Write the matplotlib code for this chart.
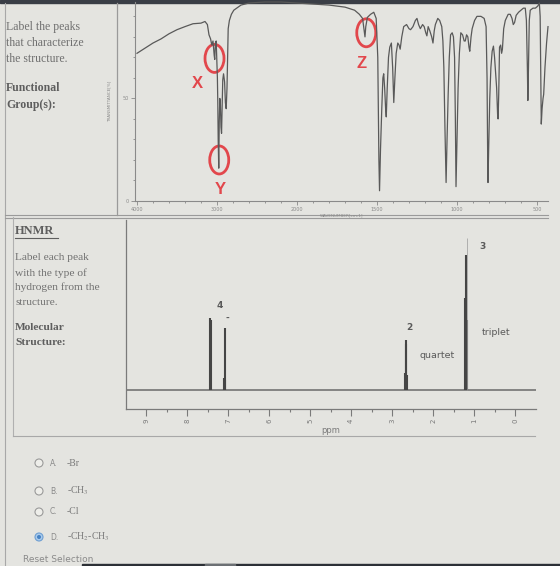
import numpy as np
import matplotlib.pyplot as plt
from matplotlib.patches import Ellipse, Circle, Rectangle
from matplotlib.transforms import ScaledTranslation
from matplotlib.ticker import FixedLocator, NullFormatter

# IR spectrum (wavenumber in cm-1, transmittance in %)
ir_wavenumber = [4000, 3900, 3800, 3700, 3600, 3500, 3400, 3300, 3200, 3150, 3120, 3100,
                 3080, 3065, 3050, 3035, 3028, 3020, 3010, 2995, 2990, 2985, 2978, 2972,
                 2965, 2958, 2950, 2943, 2935, 2928, 2918, 2905, 2895, 2885, 2875, 2868,
                 2860, 2845, 2820, 2790, 2700, 2600, 2400, 2200, 2000, 1900, 1800, 1700,
                 1640, 1610, 1590, 1580, 1575, 1570, 1560, 1540, 1520, 1505, 1495, 1488,
                 1484, 1478, 1470, 1463, 1458, 1452, 1446, 1442, 1436, 1428, 1420, 1410,
                 1402, 1395, 1388, 1380, 1370, 1362, 1355, 1345, 1333, 1315, 1300, 1290,
                 1275, 1260, 1250, 1240, 1229, 1215, 1205, 1195, 1188, 1180, 1170, 1158,
                 1150, 1142, 1135, 1120, 1108, 1095, 1088, 1082, 1075, 1068, 1062, 1055,
                 1048, 1040, 1030, 1022, 1015, 1010, 1006, 1000, 993, 985, 976, 965,
                 955, 948, 940, 932, 925, 920, 912, 905, 890, 875, 850, 830,
                 818, 812, 808, 806, 802, 795, 788, 780, 772, 765, 758, 752,
                 746, 743, 739, 734, 727, 721, 716, 708, 698, 680, 667, 656,
                 648, 640, 630, 615, 600, 585, 573, 566, 560, 557, 553, 548,
                 542, 525, 510, 495, 485, 480, 476, 473, 468, 462, 458, 450,
                 440, 431]
ir_transmittance = [72, 74.5, 77, 79, 81.5, 83.5, 85, 86.4, 86.7, 87.5, 86, 81,
                    79, 76, 78, 71, 69, 77, 78, 60, 48, 30, 16, 38,
                    50, 48, 36, 33, 46, 59, 62, 58, 48, 45, 55, 68,
                    84, 88, 91, 93, 95.5, 96.5, 97, 97, 96.5, 96, 95.5, 94.5,
                    93, 91, 89, 83, 80, 85, 89.5, 91, 92, 89, 70, 20,
                    5, 25, 45, 60, 62, 55, 45, 41, 55, 70, 75, 77,
                    65, 48, 60, 72, 77, 76, 74, 80, 85, 86, 84, 83.5,
                    85, 88, 89, 86, 84, 86, 85, 82, 80.5, 85, 83, 80,
                    77, 83, 86, 89, 88, 85, 78, 65, 35, 9, 30, 52,
                    70, 81, 82, 80, 70, 40, 7, 30, 55, 72, 82, 81,
                    78, 78, 81, 80, 75, 73, 80, 84, 88, 90, 90, 89,
                    85, 60, 20, 9, 25, 50, 65, 73, 75.5, 70, 62, 55,
                    42, 40, 52, 75, 76, 72, 74, 84, 88, 91, 91, 89,
                    86, 87, 90.5, 92, 93, 94, 94, 88, 65, 49, 65, 88,
                    93, 94, 94, 95, 96.5, 90, 60, 37.5, 45, 50, 52, 65,
                    77, 85]
ir_ticks = [4000, 3000, 2000, 1500, 1000, 500]

# circled IR peaks
ir_marks = ['X', 'Y', 'Z']
ir_mark_wn = [3031, 2972, 1567]
ir_mark_t = [69.5, 20, 82]

# 1H NMR stick spectrum (ppm, height)
nmr_ppm = [7.43, 7.41, 7.09, 7.08, 7.07, 2.69, 2.67, 2.65, 2.63, 1.22, 1.20, 1.18]
nmr_height = [72, 70, 12, 62, 10, 17, 50, 46, 15, 92, 135, 70]
nmr_spike_ppm = [1.185]
nmr_spike_height = [152]
nmr_labels = ['4', '-', '2', 'quartet', '3', 'triplet']
nmr_label_ppm = [7.20, 7.02, 2.59, 1.90, 0.80, 0.46]
nmr_label_height = [85, 72, 63, 35, 144, 58]

options = ['A.', 'B.', 'C.', 'D.']
option_text = ['-Br', '-CH$_3$', '-Cl', '-CH$_2$-CH$_3$']
option_y = [463, 491, 512, 537]

BG = '#e4e4e0'
RED = '#e2474c'
GRAY = '#707070'
W, H = 560, 566

plt.rcParams['mathtext.fontset'] = 'stix'


def box(x0, y0, x1, y1):
    return [x0 / W, 1 - y1 / H, (x1 - x0) / W, (y1 - y0) / H]


fig = plt.figure(figsize=(5.6, 5.66), dpi=100, facecolor=BG)

# page decorations in pixel coordinates
bg = fig.add_axes([0, 0, 1, 1])
bg.set_xlim(0, W)
bg.set_ylim(H, 0)
bg.axis('off')
bg.add_patch(Rectangle((0, 0), W, 3, color='#3a3e46'))
bg.plot([5, 5], [3, H], color='#a8a8a8', lw=0.8)
bg.plot([117, 117], [3, 215], color='#9a9a9a', lw=0.9)
bg.plot([5, 548], [215, 215], color='#9a9a9a', lw=0.8)
bg.plot([5, 548], [217.5, 217.5], color='#9a9a9a', lw=0.8)
bg.plot([13, 13], [217, 436], color='#b0b0b0', lw=0.8)
bg.plot([13, 535], [436, 436], color='#a8a8a8', lw=0.8)

serif = 'Liberation Serif'
for i, line in enumerate(['Label the peaks', 'that characterize', 'the structure.']):
    bg.text(6, 27 + 16 * i, line, family=serif, fontsize=8.5, color=GRAY, va='center')
for i, line in enumerate(['Functional', 'Group(s):']):
    bg.text(6, 88 + 17 * i, line, family=serif, fontsize=8.5, color='#5e5e5e',
            fontweight='bold', va='center')
bg.text(15, 231, 'HNMR', family=serif, fontsize=9, color='#5e5e5e', fontweight='bold', va='center')
bg.plot([15, 58], [237.5, 237.5], color='#5e5e5e', lw=0.8)
for i, line in enumerate(['Label each peak', 'with the type of', 'hydrogen from the', 'structure.']):
    bg.text(15, 258 + 14.7 * i, line, family=serif, fontsize=8.2, color=GRAY, va='center')
for i, line in enumerate(['Molecular', 'Structure:']):
    bg.text(15, 328 + 14.5 * i, line, family=serif, fontsize=8.2, color='#5e5e5e',
            fontweight='bold', va='center')

for i, (opt, txt, y) in enumerate(zip(options, option_text, option_y)):
    if i == 3:
        bg.add_patch(Circle((39, y), 4, fc='#a9cbec', ec='#6f9fd2', lw=0.8))
        bg.add_patch(Circle((39, y), 2, fc='#4682c4', ec='none'))
    else:
        bg.add_patch(Circle((39, y), 4, fc='#eeeeea', ec='#9a9a9a', lw=0.8))
    bg.text(50, y, opt, fontsize=5.5, color='#8a8a8a', va='center')
    bg.text(67, y, txt, family=serif, fontsize=7, color='#7a7a7a', va='center')
bg.text(23, 560, 'Reset Selection', fontsize=6.5, color='#8a8a8a', va='center')
bg.add_patch(Rectangle((82, 563.5), W - 82, 3, color='#2c3036', zorder=5))
bg.add_patch(Rectangle((205, 563.5), 30, 3, color='#6c7074', zorder=6))


# IR spectrum, x axis compressed 2:1 above 2000 cm-1
def fwd(w):
    w = np.asarray(w, float)
    return np.where(w > 2000, 2000 + (w - 2000) / 2, w)


def inv(u):
    u = np.asarray(u, float)
    return np.where(u > 2000, 2000 + (u - 2000) * 2, u)


ir = fig.add_axes(box(135, 2, 548, 201))
ir.patch.set_visible(False)
ir.set_xscale('function', functions=(fwd, inv))
ir.plot(ir_wavenumber, ir_transmittance, color='#595959', lw=0.9, clip_on=False)
ir.set_xlim(4025, 431)
ir.set_ylim(0, 97)
ir.xaxis.set_major_locator(FixedLocator(ir_ticks))
ir.xaxis.set_minor_locator(FixedLocator(list(range(3800, 2000, -200)) + list(range(1900, 400, -100))))
ir.xaxis.set_minor_formatter(NullFormatter())
ir.set_xticklabels([str(t) for t in ir_ticks])
ir.set_yticks([0, 50])
ir.yaxis.set_minor_locator(FixedLocator(range(10, 100, 10)))
ir.tick_params(which='both', colors='#888888', labelsize=3.5, labelcolor='#8a8a8a',
               width=0.6, pad=1.5)
ir.tick_params(which='major', length=3)
ir.tick_params(which='minor', length=1.5)
for side in ['top', 'right']:
    ir.spines[side].set_visible(False)
for side in ['left', 'bottom']:
    ir.spines[side].set_color('#8a8a8a')
    ir.spines[side].set_linewidth(0.8)
ir.set_xlabel('WAVENUMBER[cm-1]', fontsize=3, color='#8a8a8a', labelpad=1)
ir.set_ylabel('TRANSMITTANCE[%]', fontsize=3, color='#8a8a8a', labelpad=8)

offsets = {'X': (-17, -25), 'Y': (1, -30), 'Z': (-5, -31)}
for mark, wn, t in zip(ir_marks, ir_mark_wn, ir_mark_t):
    tr = fig.dpi_scale_trans + ScaledTranslation(wn, t, ir.transData)
    ir.add_artist(Ellipse((0, 0), 0.19, 0.28, transform=tr, fill=False,
                          ec=RED, lw=2, clip_on=False))
    ir.annotate(mark, xy=(wn, t), xytext=offsets[mark], textcoords='offset pixels',
                ha='center', va='center', color=RED, fontsize=12, fontweight='bold',
                family='Liberation Sans', annotation_clip=False)

# 1H NMR
nm = fig.add_axes(box(126, 220, 536, 409))
nm.patch.set_visible(False)
nm.axhline(0, color='#6a6a6a', lw=1.1)
nm.vlines(nmr_ppm, 0, nmr_height, color='#454545', lw=1.5)
nm.vlines(nmr_spike_ppm, 0, nmr_spike_height, color='#9a9a9a', lw=0.5)
for lab, p, h in zip(nmr_labels, nmr_label_ppm, nmr_label_height):
    bold = lab not in ('quartet', 'triplet')
    nm.text(p, h, lab, ha='center', va='center', fontsize=6.5 if bold else 6.8,
            fontweight='bold' if bold else 'normal', color='#5a5a5a')
nm.set_xlim(9.49, -0.51)
nm.set_ylim(-19, 170)
nm.set_xticks(range(0, 10))
nm.set_xticks(np.arange(0.5, 9.5, 1), minor=True)
nm.set_yticks([])
nm.tick_params(axis='x', which='both', colors='#7a7a7a', labelsize=5, labelrotation=90,
               width=0.8, pad=2)
nm.tick_params(axis='x', which='major', length=5)
nm.tick_params(axis='x', which='minor', length=2.5)
for side in ['top', 'right']:
    nm.spines[side].set_visible(False)
for side in ['left', 'bottom']:
    nm.spines[side].set_color('#7a7a7a')
    nm.spines[side].set_linewidth(0.9)
nm.set_xlabel('ppm', fontsize=6, color='#7a7a7a', labelpad=2)

fig.savefig('out.png', dpi=100, facecolor=BG)
